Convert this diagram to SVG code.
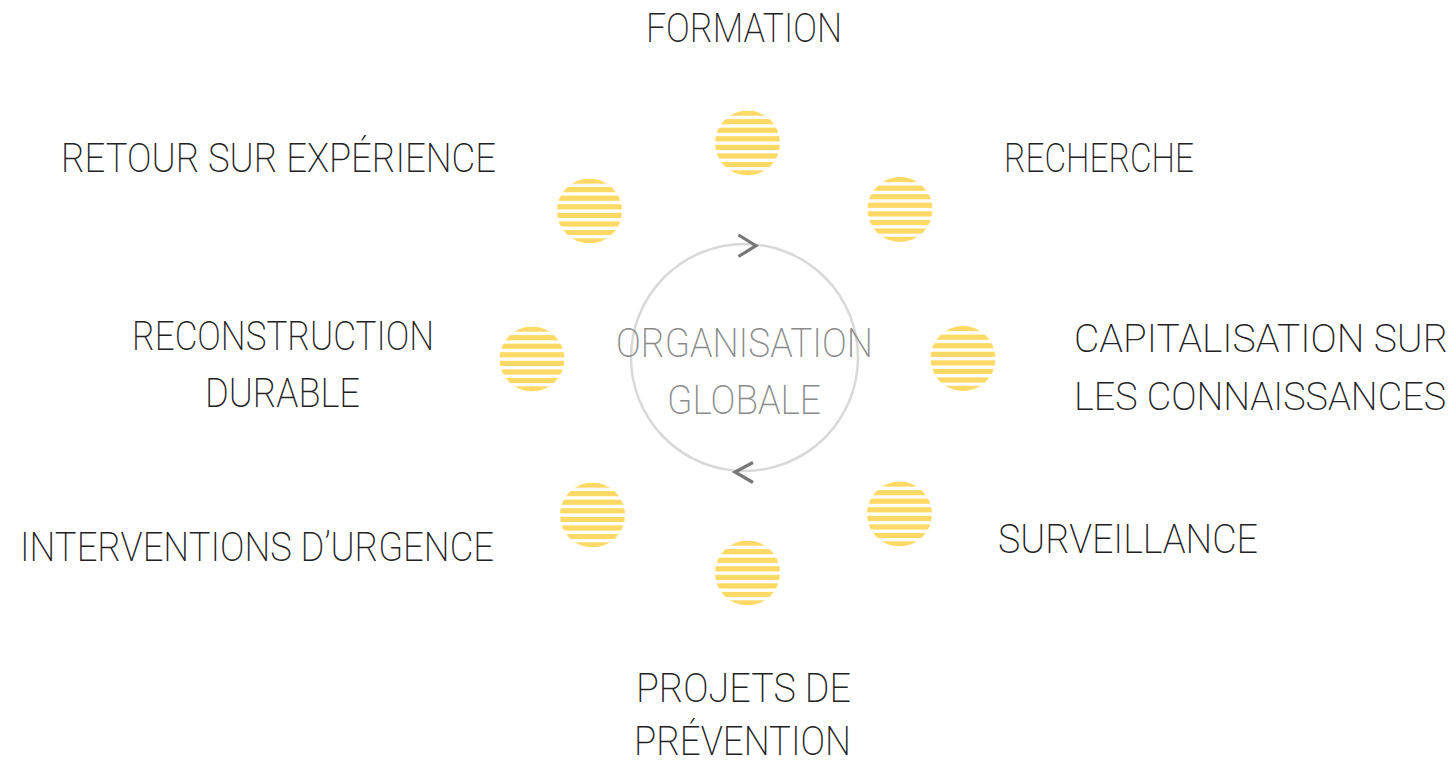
<svg xmlns="http://www.w3.org/2000/svg" xmlns:xlink="http://www.w3.org/1999/xlink" width="1451" height="764" viewBox="0 0 1451 764">
<style>
.lbl{font-family:Roboto,"Liberation Sans",sans-serif;font-weight:200;font-size:40px;fill:#222}
.edge{font-size:38px}
.ctr{font-family:Roboto,"Liberation Sans",sans-serif;font-weight:200;font-size:40px;fill:#8a8a8a}
.y{fill:#FFD966}
</style>
<defs>
<clipPath id="cc"><circle cx="0" cy="0" r="32.5"/></clipPath>
<g id="sun" clip-path="url(#cc)">
<rect class="y" x="-33" y="-32.5" width="66" height="5.2"/>
<rect class="y" x="-33" y="-23.93" width="66" height="5.2"/>
<rect class="y" x="-33" y="-15.36" width="66" height="5.2"/>
<rect class="y" x="-33" y="-6.79" width="66" height="5.2"/>
<rect class="y" x="-33" y="1.79" width="66" height="5.2"/>
<rect class="y" x="-33" y="10.36" width="66" height="5.2"/>
<rect class="y" x="-33" y="18.93" width="66" height="5.2"/>
<rect class="y" x="-33" y="27.3" width="66" height="5.2"/>
</g>
</defs>
<rect width="1451" height="764" fill="#fff"/>
<g id="center">
<circle cx="744.5" cy="357.5" r="113.5" fill="none" stroke="#d9d9d9" stroke-width="2.5"/>
<text class="ctr" x="616" y="357" textLength="257" lengthAdjust="spacingAndGlyphs">ORGANISATION</text>
<text class="ctr" x="667" y="414" textLength="154" lengthAdjust="spacingAndGlyphs">GLOBALE</text>
</g>
<g id="connectors" fill="none" stroke="#777" stroke-width="3.2" stroke-linecap="butt" stroke-linejoin="miter">
<polyline points="738.5,235 756,245.7 738.5,256.5"/>
<polyline points="753,462.5 735,472 753,482.5"/>
</g>
<g id="formation"><use xlink:href="#sun" x="747.5" y="143"/><text class="lbl" x="646" y="42" textLength="196" lengthAdjust="spacingAndGlyphs">FORMATION</text></g>
<g id="recherche"><use xlink:href="#sun" x="900" y="209.5"/><text class="lbl" x="1004" y="172" textLength="190" lengthAdjust="spacingAndGlyphs">RECHERCHE</text></g>
<g id="capitalisation"><use xlink:href="#sun" x="963" y="358.5"/><text class="lbl edge" x="1074" y="352" textLength="374" lengthAdjust="spacingAndGlyphs">CAPITALISATION SUR</text><text class="lbl edge" x="1074" y="410" textLength="372" lengthAdjust="spacingAndGlyphs">LES CONNAISSANCES</text></g>
<g id="surveillance"><use xlink:href="#sun" x="899.5" y="514"/><text class="lbl" x="998" y="553" textLength="260" lengthAdjust="spacingAndGlyphs">SURVEILLANCE</text></g>
<g id="projets"><use xlink:href="#sun" x="747.5" y="573"/><text class="lbl" x="636" y="702" textLength="215" lengthAdjust="spacingAndGlyphs">PROJETS DE</text><text class="lbl" x="634" y="755" textLength="217" lengthAdjust="spacingAndGlyphs">PRÉVENTION</text></g>
<g id="interventions"><use xlink:href="#sun" x="592.5" y="515"/><text class="lbl" x="20" y="561" textLength="474" lengthAdjust="spacingAndGlyphs">INTERVENTIONS D’URGENCE</text></g>
<g id="reconstruction"><use xlink:href="#sun" x="532" y="359"/><text class="lbl" x="132" y="350" textLength="302" lengthAdjust="spacingAndGlyphs">RECONSTRUCTION</text><text class="lbl" x="205" y="407" textLength="155" lengthAdjust="spacingAndGlyphs">DURABLE</text></g>
<g id="retour"><use xlink:href="#sun" x="589.5" y="211"/><text class="lbl" x="61" y="172" textLength="435" lengthAdjust="spacingAndGlyphs">RETOUR SUR EXPÉRIENCE</text></g>
</svg>
